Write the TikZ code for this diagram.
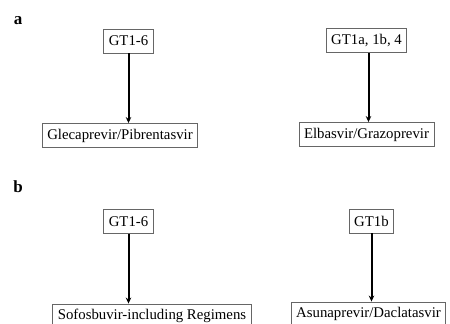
\documentclass[tikz,border=0pt]{standalone}
\usepackage{fontspec}
\setmainfont{Liberation Serif}
\usetikzlibrary{arrows.meta,calc}

\tikzset{
  gtbox/.style={draw=black!60,line width=0.9pt,fill=white,inner xsep=5pt,
    minimum height=24pt,font=\fontsize{14.8}{16}\selectfont},
  drugbox/.style={gtbox},
  panel/.style={font=\fontsize{17}{18}\selectfont\bfseries},
  flow/.style={line width=2pt,-{Stealth[length=6pt,width=5.5pt]}}
}

\begin{document}
\begin{tikzpicture}[x=1pt,y=-1pt]
    \useasboundingbox (0,0) rectangle (450,324);
    \clip (0,0) rectangle (450,324);

    % panel a
    \begin{scope}[shift={(0,0)}]
      \node[panel] (la) at (18,21) {a};
      \node[gtbox] (gtA) at (128.5,41) {GT1-6};
      \node[drugbox] (glePib) at (120,135.5) {Glecaprevir/Pibrentasvir};
      \node[gtbox] (gtB) at (366.5,40.5) {GT1a, 1b, 4};
      \node[drugbox] (elbGzr) at (366.5,134.5) {Elbasvir/Grazoprevir};
      \draw[flow] (gtA.south) -- (gtA.south |- glePib.north);
      \draw[flow] ($(gtB.south)+(2,0)$) -- ($(gtB.south |- elbGzr.north)+(2,0)$);
    \end{scope}

    % panel b
    \begin{scope}[shift={(0,0)}]
      \node[panel] (lb) at (18,187) {b};
      \node[gtbox] (gtC) at (128.5,221.5) {GT1-6};
      \node[drugbox] (sofReg) at (152,316) {Sofosbuvir-including Regimens};
      \node[gtbox] (gtD) at (371.5,221) {GT1b};
      \node[drugbox] (asvDcv) at (368.5,314) {Asunaprevir/Daclatasvir};
      \draw[flow] (gtC.south) -- (gtC.south |- sofReg.north);
      \draw[flow] (gtD.south) -- (gtD.south |- asvDcv.north);
    \end{scope}
  \end{tikzpicture}
\end{document}
